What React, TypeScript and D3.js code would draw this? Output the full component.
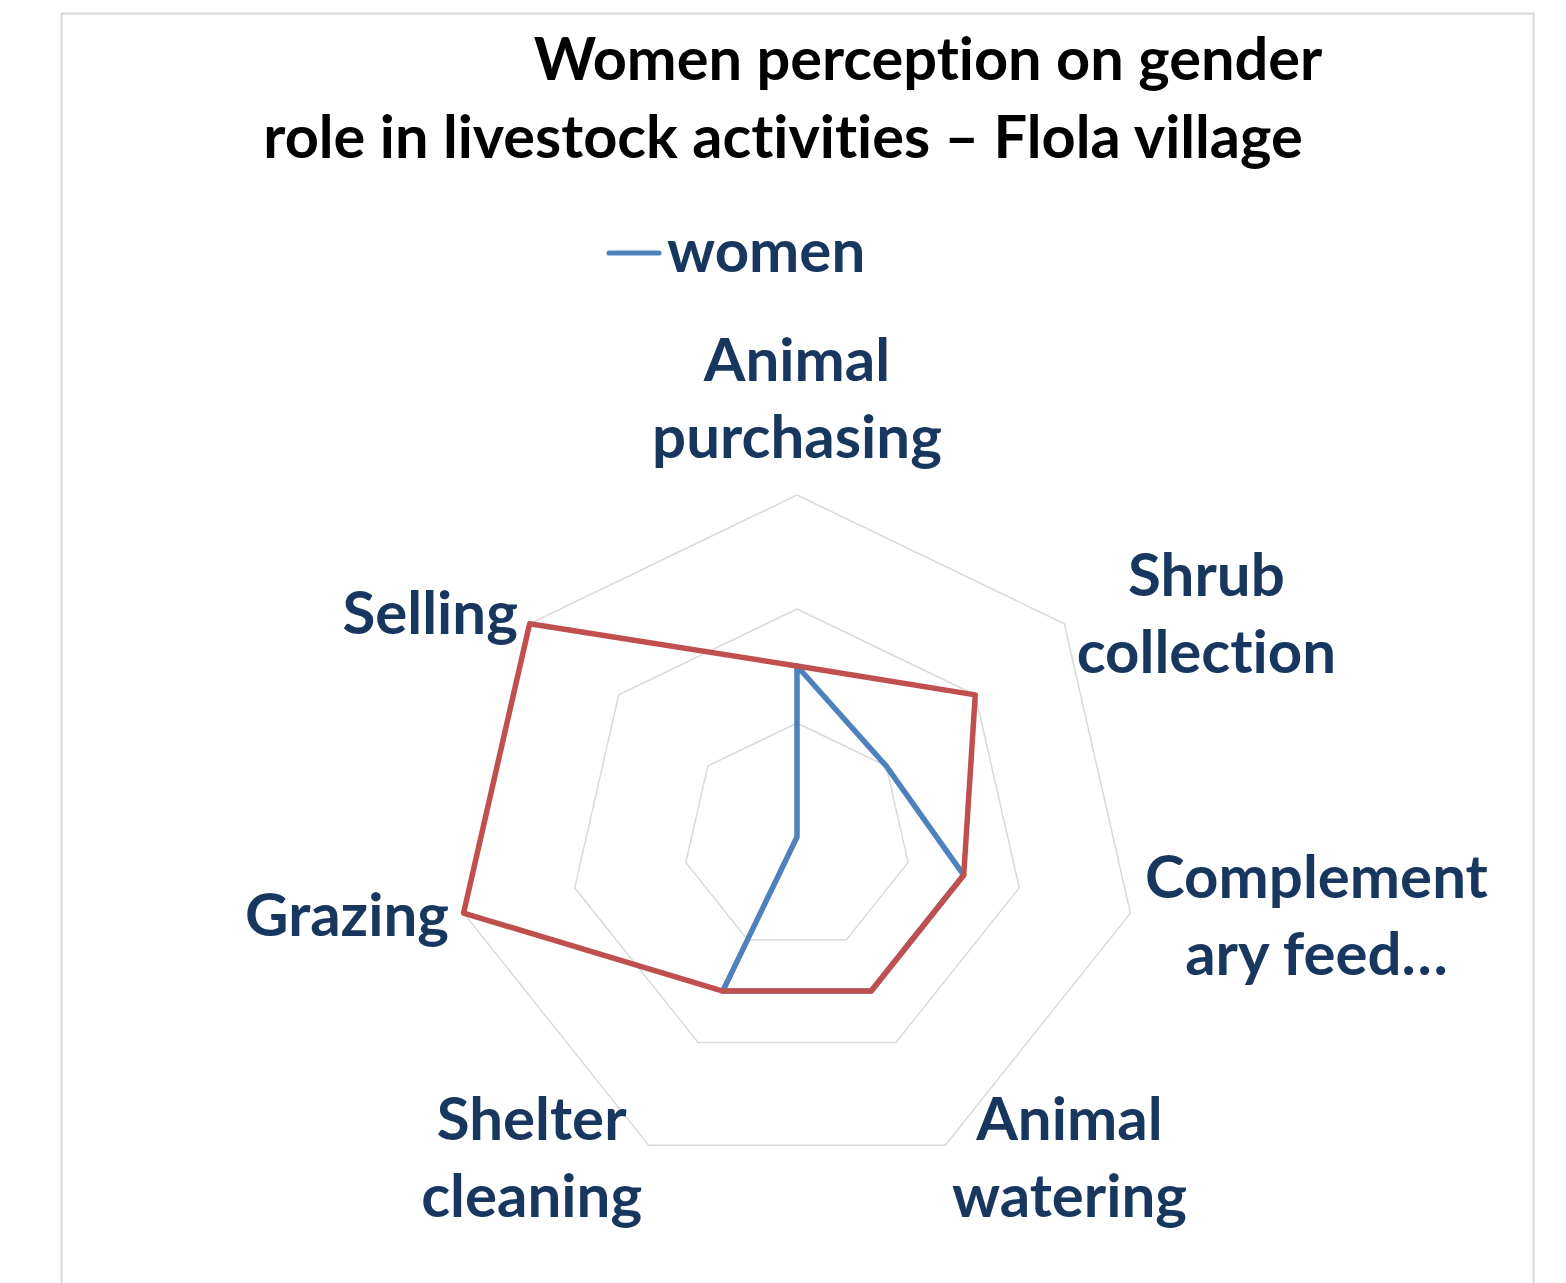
import React from 'react';
import * as d3 from 'd3';

const width = 1566;
const height = 1283;

// radar centre and outer radius
const cx = 797;
const cy = 837;
const outerR = 342;

const categories = [
  ['Animal', 'purchasing'],
  ['Shrub', 'collection'],
  ['Complement', 'ary feed…'],
  ['Animal', 'watering'],
  ['Shelter', 'cleaning'],
  ['Grazing'],
  ['Selling'],
];

const womenValues = [1.5, 1, 1.5, 1.5, 1.5, 0, 0];
const menValues = [1.5, 2, 1.5, 1.5, 1.5, 3, 3];

const gridTicks = [1, 2, 3];
const maxValue = 3;

const titleLines = ['Women perception on gender', 'role in livestock activities – Flola village'];
const legendLabel = 'women';

const labelColor = '#17375E';
const fontFamily = 'Lato, "Open Sans", sans-serif';
const fontSize = 60;
const lineHeight = 77;

// measure text so that the lines of a label can be centred on each other
const ctx = document.createElement('canvas').getContext('2d');
const measure = (s: string) => {
  if (!ctx) return s.length * fontSize * 0.5;
  ctx.font = `bold ${fontSize}px Lato`;
  return ctx.measureText(s).width;
};

const App = () => {
  const rScale = d3.scaleLinear().domain([0, maxValue]).range([0, outerR]);
  const angle = d3.scaleLinear().domain([0, categories.length]).range([0, 2 * Math.PI]);

  const radial = d3
    .lineRadial<number>()
    .angle((d, i) => angle(i))
    .radius(d => rScale(d))
    .curve(d3.curveLinearClosed);

  const gridPath = (t: number) => radial(categories.map(() => t)) || '';

  // label placement: just outside the outer ring, like Excel does
  const labels = categories.map((lines, i) => {
    const a = angle(i) - Math.PI / 2;
    const r = outerR + 15;
    const x = cx + r * Math.cos(a);
    const y = cy + r * Math.sin(a);
    const c = Math.cos(a);
    const s = Math.sin(a);
    const blockW = Math.max(...lines.map(measure));
    let mid = x;
    if (c > 0.1) mid = x + blockW / 2;
    if (c < -0.1) mid = x - blockW / 2;
    let firstBase;
    if (s < -0.9) firstBase = y - 22 - (lines.length - 1) * lineHeight;
    else if (s > 0.5) firstBase = y - ((lines.length - 1) * lineHeight) / 2 + fontSize * 0.33;
    else firstBase = y - ((lines.length - 1) * lineHeight) / 2 + fontSize * 0.33;
    return { lines, mid, firstBase };
  });

  return (
    <svg width={width} height={height} style={{ position: 'absolute', left: 0, top: 0, background: '#fff' }}>
      <rect x={61.5} y={13.5} width={1472} height={1300} fill="#fff" stroke="#D9D9D9" strokeWidth={2} />

      <g fontFamily={fontFamily} fontWeight="bold" fontSize={59.5} fill="#000" style={{ fontVariantLigatures: 'none' }}>
        <text x={928} y={80} textAnchor="middle">{titleLines[0]}</text>
        <text x={783} y={158} textAnchor="middle">{titleLines[1]}</text>
      </g>

      <line x1={609} x2={659} y1={253} y2={253} stroke="#4F81BD" strokeWidth={5} strokeLinecap="round" />
      <text x={667} y={272} fontFamily={fontFamily} fontWeight="bold" fontSize={fontSize} fill={labelColor}>
        {legendLabel}
      </text>

      <g transform={`translate(${cx},${cy})`}>
        {gridTicks.map(t => (
          <path key={t} d={gridPath(t)} fill="none" stroke="#D9D9D9" strokeWidth={1.5} />
        ))}
        <path d={radial(womenValues) || ''} fill="none" stroke="#4F81BD" strokeWidth={5.5} strokeLinejoin="round" />
        <path d={radial(menValues) || ''} fill="none" stroke="#C0504D" strokeWidth={5.5} strokeLinejoin="round" />
      </g>

      <g fontFamily={fontFamily} fontWeight="bold" fontSize={fontSize} fill={labelColor} style={{ fontVariantLigatures: 'none' }}>
        {labels.map((l, i) => (
          <text key={i} textAnchor="middle" x={l.mid} y={l.firstBase}>
            {l.lines.map((s, j) => (
              <tspan key={j} x={l.mid} dy={j === 0 ? 0 : lineHeight}>
                {s}
              </tspan>
            ))}
          </text>
        ))}
      </g>
    </svg>
  );
};

export default App;
